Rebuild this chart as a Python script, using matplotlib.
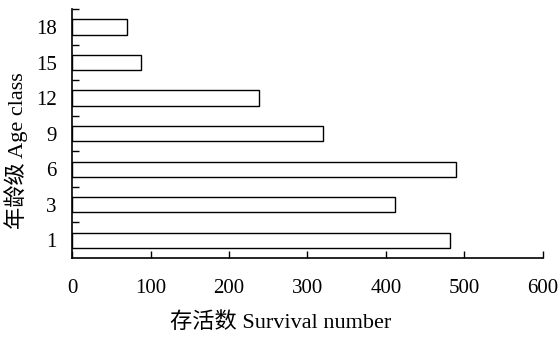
import matplotlib.pyplot as plt
import numpy as np

# Age classes and survival numbers
age_class = ["1", "3", "6", "9", "12", "15", "18"]
survival = [482, 411, 489, 320, 238, 88, 70]

plt.rcParams['font.family'] = ['Liberation Serif', 'Noto Sans CJK SC']

fig = plt.figure(figsize=(5.6, 3.38), dpi=100)
ax = fig.add_axes([0.1286, 0.2367, 0.841, 0.7358])

pos = np.arange(len(age_class))
ax.barh(pos, survival, height=0.43, color="white", edgecolor="black", linewidth=1.0)

ax.set_xlim(0, 600)
ax.set_ylim(-0.5, len(age_class) - 0.5)
ax.set_xticks(np.arange(0, 700, 100))
ax.set_yticks(pos)
ax.set_yticklabels(age_class)
ax.set_yticks(list(pos + 0.5), minor=True)

for side in ["top", "right"]:
    ax.spines[side].set_visible(False)
for side in ["left", "bottom"]:
    ax.spines[side].set_linewidth(1.2)

ax.tick_params(axis="x", direction="in", length=5, width=1.0, pad=15, labelsize=15)
ax.tick_params(axis="y", which="major", length=0, pad=11, labelsize=15)
ax.tick_params(axis="y", which="minor", direction="in", length=5, width=1.0)

ax.set_xlabel("存活数 Survival number", fontsize=16)
ax.set_ylabel("年龄级 Age class", fontsize=16)
ax.xaxis.set_label_coords(0.444, -0.26)
ax.yaxis.set_label_coords(-0.119, 0.43)
ax.xaxis.label.set_va("center")
ax.yaxis.label.set_va("center")

plt.savefig("out.png", dpi=100)
